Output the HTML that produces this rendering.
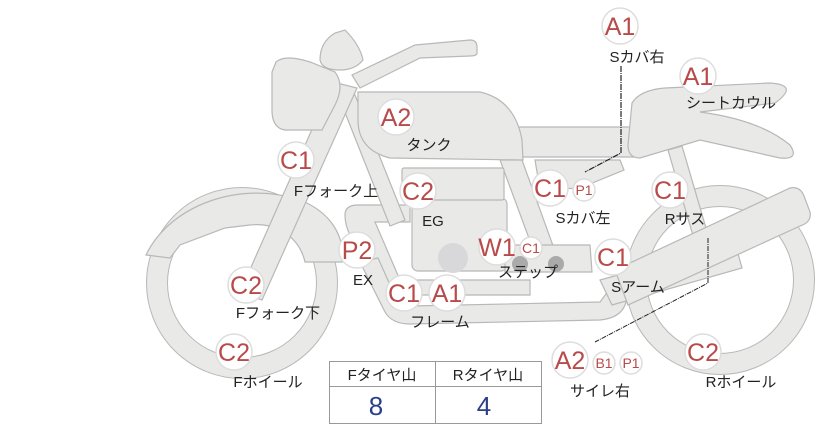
<!DOCTYPE html>
<html><head><meta charset="utf-8"><style>
html,body{margin:0;padding:0;background:#fff;}
svg{display:block;}
.b{fill:#fff;stroke:#ddd;stroke-width:1.5}
.t{fill:#b94a4a;font-family:"Liberation Sans","Noto Sans CJK JP",sans-serif;text-anchor:middle}
.l{fill:#222;font-family:"Liberation Sans","Noto Sans CJK JP",sans-serif;font-size:15px;text-anchor:middle}
.s{fill:#e9e9e7;stroke:#b8b8b8;stroke-width:1.2}
</style></head><body>
<svg width="822" height="425" viewBox="0 0 822 425" xmlns="http://www.w3.org/2000/svg">
<!-- front wheel -->
<circle cx="242" cy="283" r="85" fill="none" stroke="#b8b8b8" stroke-width="22"/>
<circle cx="242" cy="283" r="85" fill="none" stroke="#e9e9e7" stroke-width="20"/>
<!-- front fender -->
<path class="s" d="M146,255 C170,205 240,180 300,200 C330,212 345,235 342,262 L305,262 C300,240 280,222 250,225 L225,228 L180,245 L170,258 Z"/>
<!-- rear wheel -->
<circle cx="720" cy="280" r="84" fill="none" stroke="#b8b8b8" stroke-width="22"/>
<circle cx="720" cy="280" r="84" fill="none" stroke="#e9e9e7" stroke-width="20"/>
<!-- frame lower tubes -->
<path class="s" d="M345,215 Q345,205 358,205 L410,205 L410,222 L375,222 L400,280 L530,280 L530,295 L400,295 Q380,295 372,280 L350,235 Q345,225 345,215Z"/>
<path class="s" d="M360,262 L385,312 Q392,324 410,324 L600,320 Q620,318 625,305 L630,290 L612,286 L600,302 L410,306 Q400,306 395,296 L378,258Z"/>
<!-- frame diagonal from head -->
<path class="s" d="M340,100 L355,95 L405,220 L390,226Z"/>
<path class="s" d="M500,160 L522,160 L560,265 L540,268Z"/>
<!-- engine -->
<rect class="s" x="412" y="198" width="95" height="73" rx="6"/>
<rect class="s" x="402" y="168" width="102" height="32" rx="2"/>
<circle cx="453" cy="258" r="15" fill="#d8d8da"/>
<!-- step area -->
<path class="s" d="M505,245 L590,245 L592,272 L505,272Z"/>
<circle cx="520" cy="264" r="8" fill="#aaa"/>
<circle cx="556" cy="264" r="8" fill="#aaa"/>
<!-- side cover -->
<path class="s" d="M535,160 L620,160 L624,170 L580,188 L540,190Z"/>
<!-- mid seat -->
<rect class="s" x="510" y="127" width="130" height="30" rx="6"/>
<!-- rear shock -->
<path class="s" d="M668,150 L682,146 L708,235 L694,239Z"/>
<!-- swing arm -->
<path class="s" d="M600,280 L735,243 L742,268 L612,305Z"/>
<!-- muffler -->
<path class="s" d="M615,270 L790,188 Q800,186 804,196 L810,212 Q812,222 800,226 L628,305Z"/>
<!-- seat cowl -->
<path class="s" d="M632,103 Q640,90 665,88 L770,83 Q800,85 775,103 L700,112 Q760,120 790,145 Q800,160 780,158 L700,140 L640,158 Q628,158 628,145Z"/>
<!-- tank -->
<path class="s" d="M358,92 L480,92 Q515,100 522,140 L523,160 L390,158 Q358,150 358,120Z"/>
<!-- handlebar -->
<path class="s" d="M352,75 L415,45 L470,40 Q477,40 477,47 L477,53 Q477,56 470,56 L420,58 L360,88Z"/>
<!-- mirror -->
<path class="s" d="M320,60 Q320,42 335,33 L345,30 Q360,45 363,60 Q355,70 340,70 Q322,70 320,60Z"/>
<!-- front fork -->
<path class="s" d="M333,82 L357,88 L262,300 L240,292Z"/>
<!-- headlight -->
<path class="s" d="M276,62 Q285,54 310,62 L335,72 Q345,85 335,105 L322,130 L285,130 Q272,128 272,110 L272,72Z"/>
<!-- connector lines -->
<path d="M621,66 L621,153 L585,172" fill="none" stroke="#222" stroke-width="1.2" stroke-dasharray="6,1,1,1"/>
<path d="M708,238 L708,283 L595,342" fill="none" stroke="#222" stroke-width="1" stroke-dasharray="5,1,1,1"/>
<!-- table -->
<rect x="329.5" y="361.5" width="212" height="62" fill="#fff" stroke="#999"/>
<line x1="329" y1="386.5" x2="541" y2="386.5" stroke="#999"/>
<line x1="435.5" y1="361" x2="435.5" y2="423" stroke="#999"/>
<text class="l" x="382" y="380">Fタイヤ山</text>
<text class="l" x="488" y="380">Rタイヤ山</text>
<text x="376" y="415" style="fill:#2b3f8a;font:26px 'Liberation Sans',sans-serif;text-anchor:middle">8</text>
<text x="484" y="415" style="fill:#2b3f8a;font:26px 'Liberation Sans',sans-serif;text-anchor:middle">4</text>
<!-- badges big -->
<g font-size="25">
<circle class="b" cx="620" cy="26" r="18"/><text class="t" x="620" y="35">A1</text>
<circle class="b" cx="698" cy="76" r="18"/><text class="t" x="698" y="85">A1</text>
<circle class="b" cx="396" cy="117" r="18"/><text class="t" x="396" y="126">A2</text>
<circle class="b" cx="296" cy="160" r="18"/><text class="t" x="296" y="169">C1</text>
<circle class="b" cx="418" cy="191" r="18"/><text class="t" x="418" y="200">C2</text>
<circle class="b" cx="550" cy="188" r="18"/><text class="t" x="550" y="197">C1</text>
<circle class="b" cx="670" cy="190" r="18"/><text class="t" x="670" y="199">C1</text>
<circle class="b" cx="357" cy="250" r="18"/><text class="t" x="357" y="259">P2</text>
<circle class="b" cx="497" cy="247" r="18"/><text class="t" x="497" y="256">W1</text>
<circle class="b" cx="613" cy="257" r="18"/><text class="t" x="613" y="266">C1</text>
<circle class="b" cx="246" cy="285" r="18"/><text class="t" x="246" y="294">C2</text>
<circle class="b" cx="404" cy="293" r="18"/><text class="t" x="404" y="302">C1</text>
<circle class="b" cx="447" cy="293" r="18"/><text class="t" x="447" y="302">A1</text>
<circle class="b" cx="234" cy="352" r="18"/><text class="t" x="234" y="361">C2</text>
<circle class="b" cx="570" cy="360" r="18"/><text class="t" x="570" y="369">A2</text>
<circle class="b" cx="703" cy="352" r="18"/><text class="t" x="703" y="361">C2</text>
</g>
<g font-size="14">
<circle class="b" cx="584" cy="190" r="11"/><text class="t" x="584" y="195">P1</text>
<circle class="b" cx="531" cy="248" r="11"/><text class="t" x="531" y="253">C1</text>
<circle class="b" cx="604" cy="363" r="11"/><text class="t" x="604" y="368">B1</text>
<circle class="b" cx="631" cy="363" r="11"/><text class="t" x="631" y="368">P1</text>
</g>
<!-- labels -->
<text class="l" x="637" y="62">Sカバ右</text>
<text class="l" x="731" y="108">シートカウル</text>
<text class="l" x="429" y="150">タンク</text>
<text class="l" x="336" y="196">Fフォーク上</text>
<text class="l" x="433" y="226">EG</text>
<text class="l" x="583" y="223">Sカバ左</text>
<text class="l" x="685" y="224">Rサス</text>
<text class="l" x="363" y="285">EX</text>
<text class="l" x="528" y="277">ステップ</text>
<text class="l" x="638" y="292">Sアーム</text>
<text class="l" x="278" y="318">Fフォーク下</text>
<text class="l" x="440" y="327">フレーム</text>
<text class="l" x="268" y="387">Fホイール</text>
<text class="l" x="600" y="396">サイレ右</text>
<text class="l" x="741" y="387">Rホイール</text>
</svg>
</body></html>
